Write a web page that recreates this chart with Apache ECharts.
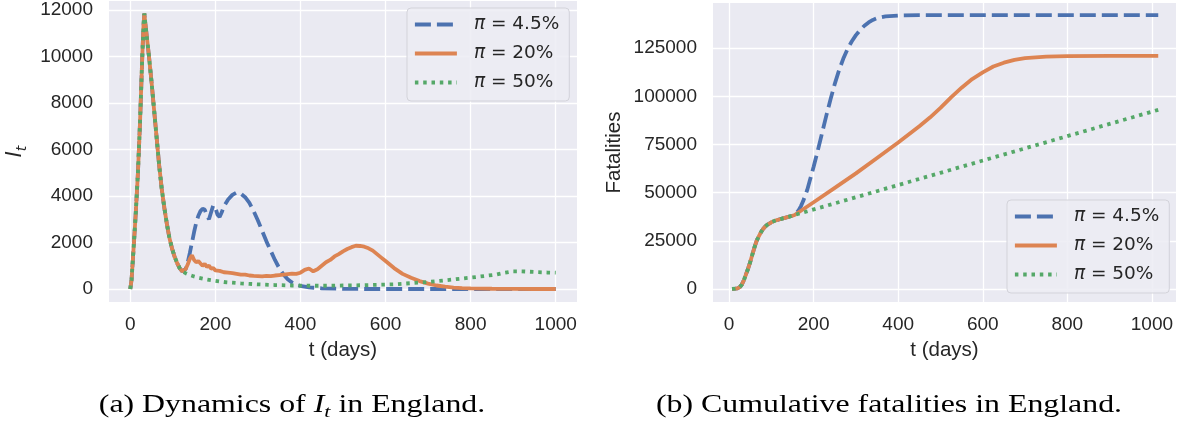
<!DOCTYPE html>
<html>
<head>
<meta charset="utf-8">
<script src="https://cdn.jsdelivr.net/npm/echarts@6/dist/echarts.min.js"></script>
<style>
html, body { margin: 0; padding: 0; background: #fff; }
#main { width: 1178px; height: 424px; }
</style>
</head>
<body>
<div id="main"></div>
<script>
// ---- data ----
var seriesNames = ['π = 4.5%', 'π = 20%', 'π = 50%'];
var dayTicks = [0, 200, 400, 600, 800, 1000];
var infectedTicks = [0, 2000, 4000, 6000, 8000, 10000, 12000];
var fatalTicks = [0, 25000, 50000, 75000, 100000, 125000];

// (a) I_t : shared first wave, then one branch per pi
var commonDaysI = [0, 3, 8, 13, 18, 23, 28, 31, 33, 35, 38, 44, 50, 56, 62, 68, 74, 80, 86, 92, 98, 104, 110, 116, 122, 126];
var commonI = [0, 400, 1800, 3300, 5000, 7200, 9900, 11300, 11850, 11500, 11000, 10000, 8900, 7700, 6500, 5300, 4300, 3500, 2800, 2200, 1750, 1400, 1120, 900, 760, 720];

var blueDaysI = [130, 135, 140, 145, 150, 155, 160, 165, 170, 175, 180, 185, 190, 195, 200, 205, 210, 215, 220, 230, 240, 250, 260, 270, 280, 290, 300, 310, 320, 330, 340, 350, 360, 370, 380, 390, 400, 420, 450, 500, 550, 1000];
var blueI = [850, 1150, 1550, 2000, 2450, 2850, 3150, 3350, 3450, 3420, 3150, 3000, 3300, 3600, 3500, 3200, 3100, 3300, 3550, 3850, 4050, 4150, 4100, 3950, 3700, 3350, 2950, 2500, 2050, 1650, 1250, 900, 620, 420, 280, 190, 130, 70, 30, 10, 0, 0];

var orangeDaysI = [130, 135, 140, 145, 150, 155, 160, 165, 170, 175, 180, 185, 190, 195, 200, 210, 220, 230, 240, 250, 260, 270, 280, 290, 300, 310, 320, 330, 340, 350, 360, 370, 380, 390, 400, 410, 420, 430, 440, 450, 460, 470, 480, 490, 500, 510, 520, 530, 540, 550, 560, 570, 580, 590, 600, 620, 640, 660, 680, 700, 720, 740, 760, 780, 800, 850, 900, 950, 1000];
var orangeI = [850, 1050, 1300, 1450, 1250, 1150, 1200, 1100, 1000, 1080, 950, 1000, 880, 900, 800, 780, 720, 700, 680, 650, 620, 620, 580, 560, 550, 540, 560, 550, 580, 600, 620, 640, 660, 650, 700, 820, 880, 760, 850, 1000, 1150, 1250, 1400, 1500, 1620, 1720, 1800, 1860, 1850, 1820, 1750, 1650, 1500, 1350, 1200, 900, 650, 480, 340, 230, 150, 100, 60, 40, 25, 10, 5, 0, 0];

var greenDaysI = [130, 135, 140, 145, 150, 160, 170, 180, 190, 200, 220, 240, 260, 280, 300, 340, 380, 420, 460, 500, 540, 580, 620, 660, 700, 740, 780, 820, 860, 880, 900, 920, 950, 980, 1000];
var greenI = [680, 640, 600, 570, 540, 490, 450, 410, 380, 350, 300, 270, 240, 220, 200, 170, 150, 140, 140, 150, 160, 180, 200, 250, 300, 370, 450, 530, 620, 700, 760, 760, 730, 710, 700];

// (b) cumulative fatalities
var commonDaysF = [7, 15, 20, 25, 30, 35, 40, 45, 50, 55, 60, 65, 70, 75, 80, 85, 90, 100, 110, 120, 130, 140, 150, 155];
var commonF = [0, 100, 300, 900, 2200, 4500, 7500, 10500, 14000, 17800, 21500, 24800, 27200, 29300, 31000, 32300, 33300, 34600, 35500, 36200, 36800, 37400, 38000, 38400];

var blueDaysF = [160, 165, 170, 175, 180, 185, 190, 200, 210, 220, 230, 240, 250, 260, 270, 280, 290, 300, 310, 320, 330, 340, 350, 370, 400, 450, 1015];
var blueF = [39500, 41000, 43000, 45500, 48500, 51500, 55500, 63500, 72000, 81000, 90000, 98500, 106500, 113500, 119500, 124500, 128500, 131800, 134500, 136700, 138400, 139700, 140600, 141500, 142000, 142200, 142200];

var orangeDaysF = [200, 250, 300, 350, 400, 450, 475, 500, 525, 550, 575, 600, 625, 650, 675, 700, 750, 800, 900, 1015];
var orangeF = [45000, 52500, 60000, 68000, 76000, 84500, 89000, 94000, 99500, 104500, 109000, 112500, 115500, 117500, 119000, 119900, 120600, 120900, 121000, 121000];

var greenDaysF = [300, 500, 700, 900, 1015];
var greenF = [47600, 60300, 73000, 85700, 93000];

// ---- helpers ----
function pairs(days, vals) {
    return days.map(function (d, i) { return [d, vals[i]]; });
}
function branch(cd, cv, d, v) {
    return pairs(cd, cv).concat(pairs(d, v));
}
function plain(v) { return String(v); }

var colors = ['#4C72B0', '#DD8452', '#55A868'];
var lineTypes = [[16, 6], 'solid', [3.5, 4.8]];
var ink = '#262626';
var sans = 'Liberation Sans, Arial, sans-serif';

function lineSeries(k, gi, data) {
    return {
        type: 'line',
        name: seriesNames[k],
        xAxisIndex: gi,
        yAxisIndex: gi,
        data: data,
        showSymbol: false,
        symbol: 'none',
        silent: true,
        color: colors[k],
        lineStyle: { color: colors[k], width: 3.8, type: lineTypes[k], cap: 'butt' }
    };
}

function xAxisFor(gi, min, max) {
    return {
        type: 'value', gridIndex: gi, min: min, max: max,
        axisLine: { show: false },
        axisTick: { show: false, customValues: dayTicks },
        axisLabel: { customValues: dayTicks, formatter: plain, margin: 13, color: ink, fontFamily: sans, fontSize: 19 },
        splitLine: { show: true, lineStyle: { color: '#ffffff', width: 1.3 } },
        name: 't (days)', nameLocation: 'middle', nameGap: 38,
        nameTextStyle: { color: ink, fontFamily: sans, fontSize: 20.5 }
    };
}

function yAxisFor(gi, min, max, ticks, name, gap, rich) {
    return {
        type: 'value', gridIndex: gi, min: min, max: max,
        axisLine: { show: false },
        axisTick: { show: false, customValues: ticks },
        axisLabel: { customValues: ticks, formatter: plain, margin: 16, color: ink, fontFamily: sans, fontSize: 19 },
        splitLine: { show: true, lineStyle: { color: '#ffffff', width: 1.3 } },
        name: name, nameLocation: 'middle', nameRotate: 90, nameGap: gap,
        nameTextStyle: { color: ink, fontFamily: sans, fontSize: 20.5, rich: rich }
    };
}

function legendAt(left, top) {
    return {
        orient: 'vertical', left: left, top: top,
        data: seriesNames,
        itemWidth: 42, itemHeight: 14, itemGap: 8,
        padding: [6, 10, 8, 6],
        backgroundColor: 'rgba(236,236,243,0.85)',
        borderColor: '#d3d3da', borderWidth: 1, borderRadius: 4,
        selectedMode: false,
        lineStyle: { width: 3.8 },
        // hide the marker dot that line series put in their legend icon
        itemStyle: { opacity: 0, borderWidth: 0 },
        formatter: function (n) { return n.replace('π', '{p|π}'); },
        textStyle: {
            color: ink, fontFamily: 'DejaVu Sans', fontSize: 18.5, lineHeight: 21,
            padding: [0, 0, 0, 12],
            rich: { p: { fontFamily: 'DejaVu Sans', fontStyle: 'italic', fontSize: 18.5, color: ink } }
        }
    };
}

var chart = echarts.init(document.getElementById('main'), null, { renderer: 'canvas' });

var option = {
    animation: false,
    backgroundColor: '#ffffff',
    grid: [
        { left: 109, top: 1, width: 468, height: 301, show: true, backgroundColor: '#EAEAF2', borderWidth: 0 },
        { left: 713, top: 3, width: 463, height: 299, show: true, backgroundColor: '#EAEAF2', borderWidth: 0 }
    ],
    xAxis: [xAxisFor(0, -50, 1050), xAxisFor(1, -38, 1057)],
    yAxis: [
        yAxisFor(0, -560, 12390, infectedTicks, '{i|I}{s|t}', 80, {
            i: { fontFamily: 'DejaVu Sans', fontStyle: 'italic', fontSize: 20.5, color: ink, lineHeight: 26, verticalAlign: 'middle' },
            s: { fontFamily: 'DejaVu Sans', fontStyle: 'italic', fontSize: 14, color: ink, lineHeight: 14, verticalAlign: 'bottom' }
        }),
        yAxisFor(1, -6800, 148500, fatalTicks, 'Fatalities', 88)
    ],
    legend: [legendAt(407, 8), legendAt(1007, 200)],
    series: [
        lineSeries(0, 0, branch(commonDaysI, commonI, blueDaysI, blueI)),
        lineSeries(1, 0, branch(commonDaysI, commonI, orangeDaysI, orangeI)),
        lineSeries(2, 0, branch(commonDaysI, commonI, greenDaysI, greenI)),
        lineSeries(0, 1, branch(commonDaysF, commonF, blueDaysF, blueF)),
        lineSeries(1, 1, branch(commonDaysF, commonF, orangeDaysF, orangeF)),
        lineSeries(2, 1, branch(commonDaysF, commonF, greenDaysF, greenF))
    ],
    graphic: [
        {
            type: 'text', x: 292, y: 406, scaleX: 1.3,
            style: {
                text: '(a) Dynamics of {i|I}{s|t} in England.',
                align: 'center', verticalAlign: 'middle',
                fill: '#000', fontFamily: 'Liberation Serif', fontSize: 24.5, lineHeight: 30,
                rich: {
                    i: { fontFamily: 'Liberation Serif', fontStyle: 'italic', fontSize: 24.5, lineHeight: 30 },
                    s: { fontFamily: 'Liberation Serif', fontStyle: 'italic', fontSize: 17, lineHeight: 17, verticalAlign: 'bottom' }
                }
            }
        },
        {
            type: 'text', x: 889, y: 406, scaleX: 1.3,
            style: {
                text: '(b) Cumulative fatalities in England.',
                align: 'center', verticalAlign: 'middle',
                fill: '#000', fontFamily: 'Liberation Serif', fontSize: 24.5
            }
        }
    ]
};

chart.setOption(option);
</script>
</body>
</html>
